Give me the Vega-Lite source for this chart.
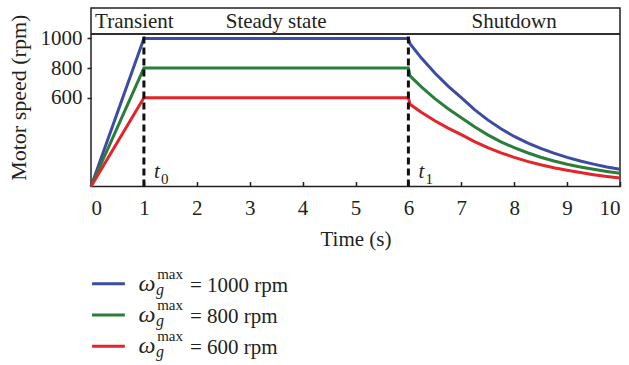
{
  "$schema": "https://vega.github.io/schema/vega-lite/v6.json",
  "padding": {"left": 6, "top": 7, "right": 9, "bottom": 0},
  "bounds": "flush",
  "spacing": 81,
  "resolve": {"scale": {"x": "independent", "y": "independent"}},
  "config": {
    "font": "Liberation Serif",
    "axis": {"labelFont": "Liberation Serif", "titleFont": "Liberation Serif", "labelColor": "#231f20", "titleColor": "#231f20", "titleFontWeight": "normal", "grid": false, "domain": false, "tickColor": "#231f20", "tickWidth": 1.5}
  },
  "datasets": {
    "curves": [
      {"series": "1000", "t": 0, "speed": 0}, {"series": "1000", "t": 1, "speed": 1000}, {"series": "1000", "t": 6, "speed": 1000},
      {"series": "1000", "t": 6.03, "speed": 965}, {"series": "1000", "t": 6.25, "speed": 866}, {"series": "1000", "t": 6.5, "speed": 767},
      {"series": "1000", "t": 6.75, "speed": 678}, {"series": "1000", "t": 7, "speed": 600}, {"series": "1000", "t": 7.25, "speed": 519},
      {"series": "1000", "t": 7.5, "speed": 450}, {"series": "1000", "t": 7.75, "speed": 390}, {"series": "1000", "t": 8, "speed": 338},
      {"series": "1000", "t": 8.25, "speed": 295}, {"series": "1000", "t": 8.5, "speed": 258}, {"series": "1000", "t": 8.75, "speed": 225},
      {"series": "1000", "t": 9, "speed": 197}, {"series": "1000", "t": 9.25, "speed": 172}, {"series": "1000", "t": 9.5, "speed": 151},
      {"series": "1000", "t": 9.75, "speed": 132}, {"series": "1000", "t": 10, "speed": 116},
      {"series": "800", "t": 0, "speed": 0}, {"series": "800", "t": 1, "speed": 800}, {"series": "800", "t": 6, "speed": 800},
      {"series": "800", "t": 6.03, "speed": 747}, {"series": "800", "t": 6.25, "speed": 671}, {"series": "800", "t": 6.5, "speed": 594},
      {"series": "800", "t": 6.75, "speed": 525}, {"series": "800", "t": 7, "speed": 465}, {"series": "800", "t": 7.25, "speed": 403},
      {"series": "800", "t": 7.5, "speed": 349}, {"series": "800", "t": 7.75, "speed": 302}, {"series": "800", "t": 8, "speed": 262},
      {"series": "800", "t": 8.25, "speed": 228}, {"series": "800", "t": 8.5, "speed": 198}, {"series": "800", "t": 8.75, "speed": 172},
      {"series": "800", "t": 9, "speed": 150}, {"series": "800", "t": 9.25, "speed": 132}, {"series": "800", "t": 9.5, "speed": 116},
      {"series": "800", "t": 9.75, "speed": 102}, {"series": "800", "t": 10, "speed": 89},
      {"series": "600", "t": 0, "speed": 0}, {"series": "600", "t": 1, "speed": 600}, {"series": "600", "t": 6, "speed": 600},
      {"series": "600", "t": 6.03, "speed": 555}, {"series": "600", "t": 6.25, "speed": 500}, {"series": "600", "t": 6.5, "speed": 444},
      {"series": "600", "t": 6.75, "speed": 394}, {"series": "600", "t": 7, "speed": 350}, {"series": "600", "t": 7.25, "speed": 303},
      {"series": "600", "t": 7.5, "speed": 262}, {"series": "600", "t": 7.75, "speed": 227}, {"series": "600", "t": 8, "speed": 197},
      {"series": "600", "t": 8.25, "speed": 170}, {"series": "600", "t": 8.5, "speed": 147}, {"series": "600", "t": 8.75, "speed": 127},
      {"series": "600", "t": 9, "speed": 110}, {"series": "600", "t": 9.25, "speed": 94}, {"series": "600", "t": 9.5, "speed": 80},
      {"series": "600", "t": 9.75, "speed": 68}, {"series": "600", "t": 10, "speed": 58}
    ],
    "events": [{"t": 1, "sub": "0"}, {"t": 6, "sub": "1"}],
    "phases": [{"phase": "Transient", "t": 0.82}, {"phase": "Steady state", "t": 3.5}, {"phase": "Shutdown", "t": 8}],
    "legend": [{"series": "1000", "label": "= 1000 rpm"}, {"series": "800", "label": "= 800 rpm"}, {"series": "600", "label": "= 600 rpm"}]
  },
  "vconcat": [
    {
      "width": 529,
      "height": 178.5,
      "view": {"stroke": "#231f20", "strokeWidth": 1.5},
      "layer": [
        {
          "data": {"name": "curves"},
          "mark": {"type": "line", "strokeWidth": 3},
          "encoding": {
            "x": {"field": "t", "type": "quantitative", "scale": {"domain": [0, 10], "nice": false},
              "axis": {"values": [0, 1, 2, 3, 4, 5, 6, 7, 8, 9, 10], "format": "d", "tickSize": -5, "labelPadding": 16, "labelFontSize": 21, "title": "Time (s)", "titleFontSize": 21, "titlePadding": 10}},
            "y": {"field": "speed", "type": "quantitative", "scale": {"domain": [0, 1206], "nice": false},
              "axis": {"values": [600, 800, 1000], "format": "d", "tickSize": 4, "labelPadding": 5, "labelFontSize": 21, "title": "Motor speed (rpm)", "titleFontSize": 22, "titlePadding": 10}},
            "color": {"field": "series", "type": "nominal", "scale": {"domain": ["1000", "800", "600"], "range": ["#3c4ca2", "#2a7d3a", "#e3242b"]}, "legend": null},
            "order": {"field": "t", "type": "quantitative"}
          }
        },
        {
          "data": {"name": "events"},
          "mark": {"type": "rule", "color": "#231f20", "strokeWidth": 1.5},
          "encoding": {"y": {"datum": 1030}}
        },
        {
          "data": {"name": "events"},
          "mark": {"type": "rule", "color": "#111111", "strokeWidth": 3, "strokeDash": [7, 4]},
          "encoding": {"x": {"field": "t", "type": "quantitative"}, "y": {"datum": 0}, "y2": {"datum": 1025}}
        },
        {
          "data": {"name": "events"},
          "mark": {"type": "text", "fontStyle": "italic", "fontSize": 21, "align": "left", "baseline": "alphabetic", "dx": 10, "dy": -9, "color": "#231f20"},
          "encoding": {"x": {"field": "t", "type": "quantitative"}, "y": {"datum": 0}, "text": {"value": "t"}}
        },
        {
          "data": {"name": "events"},
          "mark": {"type": "text", "fontSize": 15, "align": "left", "baseline": "alphabetic", "dx": 17, "dy": -3, "color": "#231f20"},
          "encoding": {"x": {"field": "t", "type": "quantitative"}, "y": {"datum": 0}, "text": {"field": "sub"}}
        },
        {
          "data": {"name": "phases"},
          "mark": {"type": "text", "fontSize": 21, "align": "center", "baseline": "alphabetic", "color": "#231f20"},
          "encoding": {"x": {"field": "t", "type": "quantitative"}, "y": {"datum": 1071}, "text": {"field": "phase"}}
        }
      ]
    },
    {
      "width": 529,
      "height": 94,
      "view": {"stroke": null},
      "data": {"name": "legend"},
      "encoding": {
        "y": {"field": "series", "type": "nominal", "scale": {"type": "point", "domain": ["1000", "800", "600"], "padding": 0.5}, "axis": null}
      },
      "layer": [
        {
          "mark": {"type": "rule", "strokeWidth": 3},
          "encoding": {
            "x": {"datum": 0.02, "type": "quantitative", "scale": {"domain": [0, 10], "nice": false}, "axis": null},
            "x2": {"datum": 0.64},
            "color": {"field": "series", "type": "nominal", "legend": null}
          }
        },
        {
          "mark": {"type": "text", "fontStyle": "italic", "fontSize": 24, "align": "left", "baseline": "alphabetic", "dy": 7, "color": "#231f20"},
          "encoding": {"x": {"datum": 0.9, "type": "quantitative"}, "text": {"value": "ω"}}
        },
        {
          "mark": {"type": "text", "fontSize": 15, "align": "left", "baseline": "alphabetic", "dy": -5, "color": "#231f20"},
          "encoding": {"x": {"datum": 1.25, "type": "quantitative"}, "text": {"value": "max"}}
        },
        {
          "mark": {"type": "text", "fontStyle": "italic", "fontSize": 16, "align": "left", "baseline": "alphabetic", "dy": 11, "color": "#231f20"},
          "encoding": {"x": {"datum": 1.23, "type": "quantitative"}, "text": {"value": "g"}}
        },
        {
          "mark": {"type": "text", "fontSize": 21, "align": "left", "baseline": "alphabetic", "dy": 8, "color": "#231f20"},
          "encoding": {"x": {"datum": 1.87, "type": "quantitative"}, "text": {"field": "label"}}
        }
      ]
    }
  ]
}
